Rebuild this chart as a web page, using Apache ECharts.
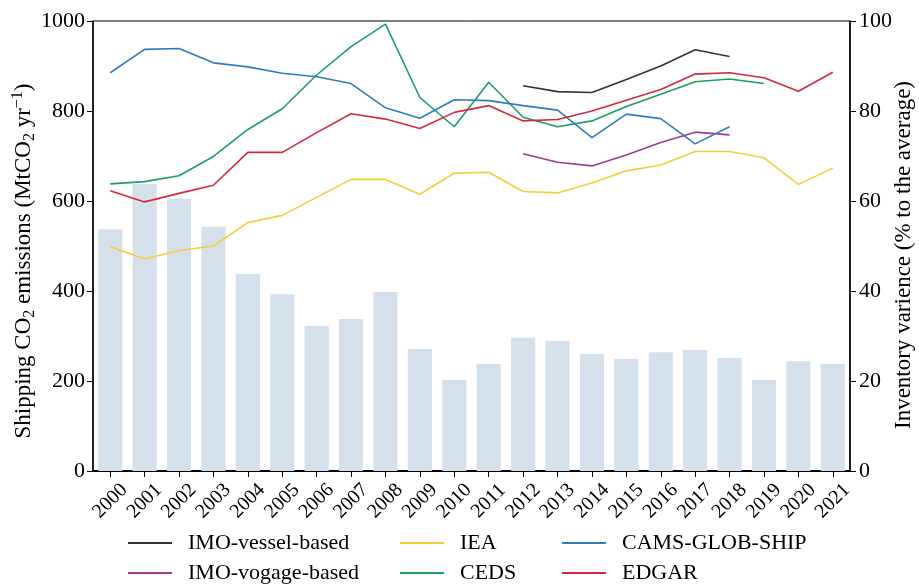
<!DOCTYPE html>
<html>
<head>
<meta charset="utf-8">
<script src="https://cdn.jsdelivr.net/npm/echarts@6/dist/echarts.min.js"></script>
<style>
  html, body { margin: 0; padding: 0; background: #fff; }
  #chart { width: 919px; height: 584px; }
</style>
</head>
<body>
<div id="chart"></div>
<script>
// Years on the category axis
const years = ['2000','2001','2002','2003','2004','2005','2006','2007','2008','2009','2010',
               '2011','2012','2013','2014','2015','2016','2017','2018','2019','2020','2021'];

// Shipping CO2 emissions by inventory (MtCO2 / yr); null = not covered
const imoVessel = [null,null,null,null,null,null,null,null,null,null,null,null,
                   856,843,841,870,900,936,921,null,null,null];
const imoVoyage = [null,null,null,null,null,null,null,null,null,null,null,null,
                   705,686,678,702,730,753,747,null,null,null];
const iea   = [499,471,490,500,552,568,608,648,648,615,662,664,621,618,640,667,680,710,710,696,637,673];
const ceds  = [638,643,656,699,759,805,880,943,993,830,765,864,786,765,778,810,837,865,871,861,null,null];
const cams  = [885,937,939,907,898,884,876,861,807,784,825,823,812,802,741,793,783,727,765,null,null,null];
const edgar = [623,598,617,635,708,708,752,794,782,761,797,812,778,781,800,824,848,882,885,874,844,886];

// Spread between inventories (% of the average)
const variance = [53.7,63.8,60.5,54.3,43.8,39.3,32.2,33.8,39.8,27.1,20.2,23.8,
                  29.6,28.9,26.0,24.9,26.4,26.9,25.1,20.2,24.4,23.8];

// Axis ticks
const leftMax = 1000, leftStep = 200;
const rightMax = 100, rightStep = 20;

const FONT = 'Liberation Serif';

const lineSeries = [
  { name: 'IMO-vessel-based', data: imoVessel, color: '#333333' },
  { name: 'IMO-vogage-based', data: imoVoyage, color: '#a23a92' },
  { name: 'IEA',              data: iea,       color: '#f2cf3a' },
  { name: 'CEDS',             data: ceds,      color: '#1e9e5e' },
  { name: 'CAMS-GLOB-SHIP',   data: cams,      color: '#2f7bc3' },
  { name: 'EDGAR',            data: edgar,     color: '#d12b3b' }
];

// Legend laid out as three columns of two rows
const legendSlots = [
  { name: 'IMO-vessel-based', left: 123, top: 527 },
  { name: 'IMO-vogage-based', left: 123, top: 557 },
  { name: 'IEA',              left: 395, top: 527 },
  { name: 'CEDS',             left: 395, top: 557 },
  { name: 'CAMS-GLOB-SHIP',   left: 557, top: 527 },
  { name: 'EDGAR',            left: 557, top: 557 }
];

const chart = echarts.init(document.getElementById('chart'), null, { renderer: 'canvas' });

const option = {
  backgroundColor: '#fff',
  animation: false,
  grid: {
    left: 93, right: 69, top: 21, bottom: 113,
    containLabel: false,
    outerBoundsMode: 'none',
    show: true, borderColor: '#000', borderWidth: 1
  },
  legend: legendSlots.map(s => ({
    left: s.left, top: s.top,
    orient: 'horizontal',
    data: [s.name],
    icon: 'rect',
    itemWidth: 44,
    itemHeight: 2,
    selectedMode: false,
    textStyle: { fontFamily: FONT, fontSize: 22, color: '#000', padding: [0, 0, 0, 11] }
  })),
  xAxis: {
    type: 'category',
    data: years,
    boundaryGap: true,
    axisLine: { show: true, lineStyle: { color: '#000', width: 2 } },
    axisTick: { show: true, alignWithLabel: true, length: 6, lineStyle: { color: '#000', width: 1 } },
    axisLabel: {
      interval: 0, rotate: 45, fontFamily: FONT, fontSize: 20, color: '#000',
      align: 'center', verticalAlign: 'middle', margin: 30
    },
    splitLine: { show: false }
  },
  yAxis: [
    {
      type: 'value',
      min: 0, max: leftMax, interval: leftStep,
      position: 'left',
      name: '{n|Shipping CO}{sub|2}{n| emissions (MtCO}{sub|2}{n| yr}{sup|−1}{n|)}',
      nameLocation: 'middle',
      nameGap: 55,
      nameRotate: 90,
      nameMoveOverlap: false,
      nameTextStyle: {
        fontFamily: FONT, fontSize: 23, color: '#000',
        padding: [0, 30, 0, 0],
        rich: {
          n:   { fontFamily: FONT, fontSize: 23, color: '#000', lineHeight: 28, verticalAlign: 'middle' },
          sub: { fontFamily: FONT, fontSize: 16, color: '#000', lineHeight: 16, verticalAlign: 'bottom' },
          sup: { fontFamily: FONT, fontSize: 16, color: '#000', lineHeight: 16, verticalAlign: 'top' }
        }
      },
      axisLine: { show: true, lineStyle: { color: '#000', width: 1.5 } },
      axisTick: { show: true, length: 6, lineStyle: { color: '#000' } },
      axisLabel: { fontFamily: FONT, fontSize: 22, color: '#000', margin: 8, formatter: v => String(v) },
      splitLine: { show: false }
    },
    {
      type: 'value',
      min: 0, max: rightMax, interval: rightStep,
      position: 'right',
      name: 'Inventory varience (% to the average)',
      nameLocation: 'middle',
      nameGap: 42,
      nameRotate: 90,
      nameMoveOverlap: false,
      nameTextStyle: { fontFamily: FONT, fontSize: 23, color: '#000', padding: [0, 18, 0, 0] },
      axisLine: { show: true, lineStyle: { color: '#000', width: 1.5 } },
      axisTick: { show: true, length: 6, lineStyle: { color: '#000' } },
      axisLabel: { fontFamily: FONT, fontSize: 22, color: '#000', margin: 9, formatter: v => String(v) },
      splitLine: { show: false }
    }
  ],
  series: [
    {
      name: 'variance',
      type: 'bar',
      yAxisIndex: 1,
      data: variance,
      barWidth: '70%',
      itemStyle: { color: '#d4e0eb' },
      z: 1
    }
  ].concat(lineSeries.map(s => ({
    name: s.name,
    type: 'line',
    yAxisIndex: 0,
    data: s.data,
    color: s.color,
    showSymbol: false,
    symbol: 'none',
    connectNulls: false,
    lineStyle: { color: s.color, width: 1.6 },
    itemStyle: { color: s.color },
    z: 3
  })))
};

chart.setOption(option);
</script>
</body>
</html>
